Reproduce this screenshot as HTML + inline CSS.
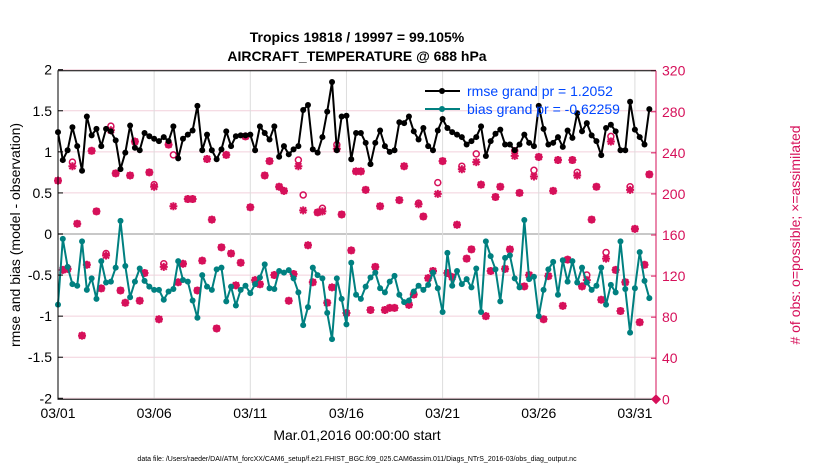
<!DOCTYPE html>
<html><head><meta charset="utf-8"><style>
body{margin:0;background:#fff;}
svg text{font-family:"Liberation Sans",sans-serif;}
</style></head><body>
<svg id="chart" width="830" height="470" xmlns="http://www.w3.org/2000/svg">
<g id="grid"></g>
<g id="marks"></g>
<g id="axes"></g>
<text x="357" y="42" text-anchor="middle" font-size="14" font-weight="bold">Tropics 19818 / 19997 = 99.105%</text>
<text x="357" y="61" text-anchor="middle" font-size="14" font-weight="bold">AIRCRAFT_TEMPERATURE @ 688 hPa</text>
<text transform="translate(20,235) rotate(-90)" text-anchor="middle" font-size="14">rmse and bias (model - observation)</text>
<text transform="translate(800,235) rotate(-90)" text-anchor="middle" font-size="14" fill="#d6105a"># of obs: o=possible; ×=assimilated</text>
<text x="357" y="440" text-anchor="middle" font-size="14">Mar.01,2016 00:00:00 start</text>
<text x="357" y="461" text-anchor="middle" font-size="7">data file: /Users/raeder/DAI/ATM_forcXX/CAM6_setup/f.e21.FHIST_BGC.f09_025.CAM6assim.011/Diags_NTrS_2016-03/obs_diag_output.nc</text>
<g>
<line x1="425" y1="91" x2="460" y2="91" stroke="#000" stroke-width="2"/><circle cx="442" cy="91" r="3" fill="#000"/>
<text x="467" y="96" font-size="14" fill="#0047ff">rmse grand pr = 1.2052</text>
<line x1="425" y1="109" x2="460" y2="109" stroke="#008080" stroke-width="2"/><circle cx="442" cy="109" r="3" fill="#008080"/>
<text x="467" y="114" font-size="14" fill="#0047ff">bias grand pr = -0.62259</text>
</g>
</svg>
<script>
const rmse=[1.24,0.90,1.02,1.30,1.07,0.77,1.43,1.20,1.28,1.07,1.28,1.25,1.14,0.79,0.99,1.32,1.05,1.02,1.23,1.19,1.16,1.13,1.18,1.13,1.31,0.92,1.16,1.21,1.26,1.56,1.02,1.21,1.02,0.91,1.03,1.25,1.07,1.19,1.20,1.20,1.21,1.02,1.31,1.23,1.15,1.31,0.94,1.07,0.97,1.03,1.07,1.51,1.57,1.03,0.99,1.18,1.49,1.85,1.02,1.43,1.44,0.91,1.23,1.23,1.11,0.85,1.11,1.26,1.07,1.00,1.02,1.36,1.35,1.43,1.25,1.15,1.29,1.07,1.02,1.26,1.40,1.29,1.24,1.21,1.18,1.09,1.13,1.18,1.31,0.95,1.13,1.22,1.27,1.09,1.09,1.02,1.09,1.21,1.11,1.07,1.56,1.28,1.09,1.11,1.18,1.06,1.26,1.17,1.47,1.25,1.35,1.20,1.13,0.96,1.29,1.33,1.25,1.02,1.02,1.61,1.27,1.18,1.09,1.52];
const bias=[-0.86,-0.06,-0.40,-0.61,-0.63,-0.09,-0.68,-0.54,-0.79,-0.33,-0.59,-0.58,-0.41,0.16,-0.39,-0.77,-0.58,-0.42,-0.57,-0.64,-0.68,-0.68,-0.80,-0.70,-0.67,-0.33,-0.56,-0.58,-0.81,-1.02,-0.50,-0.64,-0.68,-0.43,-0.41,-0.82,-0.64,-0.87,-0.68,-0.63,-0.72,-0.61,-0.53,-0.37,-0.66,-0.67,-0.45,-0.47,-0.44,-0.54,-0.71,-1.11,-0.89,-0.41,-0.50,-0.54,-0.96,-1.28,-0.54,-0.79,-1.10,-0.35,-0.74,-0.79,-0.64,-0.53,-0.47,-0.66,-0.71,-0.58,-0.51,-0.74,-0.83,-0.81,-0.70,-0.63,-0.68,-0.62,-0.47,-0.66,-0.95,-0.23,-0.63,-0.45,-0.61,-0.55,-0.65,-0.42,-0.95,-0.09,-0.27,-0.43,-0.82,-0.29,-0.26,-0.54,-0.65,0.17,-0.55,-0.52,-1.00,-0.68,-0.43,-0.34,-0.74,-0.32,-0.58,-0.33,-0.59,-0.41,-0.59,-0.68,-0.63,-0.41,-0.86,-0.62,-0.71,-0.09,-0.67,-1.20,-0.66,-0.22,-0.57,-0.78];
const nAssim=[213,126,127,227,171,62,131,242,183,108,140,262,220,106,94,218,251,96,123,221,207,78,129,248,188,114,132,195,195,106,135,234,175,69,148,238,142,111,133,256,187,116,112,218,232,121,207,203,96,122,227,184,150,114,182,183,94,109,244,180,84,145,222,222,204,87,129,188,87,89,89,194,227,92,102,190,178,118,125,200,232,123,119,170,224,137,146,231,209,81,125,197,207,127,146,237,201,110,121,217,236,78,120,203,233,91,136,233,218,110,116,175,207,97,137,251,126,86,114,204,166,75,131,219];
const nPoss=[213,126,127,231,171,62,131,242,183,108,142,266,220,106,94,218,251,96,123,221,209,78,132,248,238,114,132,195,195,106,135,234,175,69,148,238,142,111,133,256,187,116,112,218,232,121,207,203,96,122,233,199,150,114,182,186,94,109,248,180,84,145,222,222,204,87,129,188,87,89,89,194,227,92,102,191,178,118,125,211,232,123,119,170,227,137,146,239,209,81,125,197,207,127,146,242,201,110,121,223,236,78,120,203,233,91,136,233,221,110,121,175,207,97,143,256,126,86,114,207,166,75,131,219];
const yTicks=[-2,-1.5,-1,-0.5,0,0.5,1,1.5,2];
const yTickLabels=["-2","-1.5","-1","-0.5","0","0.5","1","1.5","2"];
const rTicks=[0,40,80,120,160,200,240,280,320];
const xTickDays=[0,5,10,15,20,25,30];
const xTickLabels=["03/01","03/06","03/11","03/16","03/21","03/26","03/31"];
const stepDays=0.25;

const X0=58,X1=656,Y0=70.7,Y1=399.3,PX_PER_DAY=19.23;
const xs=d=>X0+d*PX_PER_DAY;
const yl=v=>234-(v)*(Y1-Y0)/4;
const yr=c=>Y1-c*(Y1-Y0)/320;
const NS="http://www.w3.org/2000/svg";
function mk(tag,parent,attrs){const e=document.createElementNS(NS,tag);for(const k in attrs)e.setAttribute(k,attrs[k]);parent.appendChild(e);return e;}
const grid=document.getElementById('grid'),marks=document.getElementById('marks'),axes=document.getElementById('axes');

yTicks.forEach((v,i)=>{
  const l=mk('line',grid,{x1:X0,x2:X1,y1:yl(v),y2:yl(v),stroke:v===0?'#c8c8c8':'#f2d0dc','stroke-width':v===0?2:1});
  
  
  const t=mk('text',axes,{x:X0-6,y:yl(v)+5,'text-anchor':'end','font-size':14});
  t.textContent=yTickLabels[i];
  
  
  mk('line',axes,{x1:X0,x2:X0+5,y1:yl(v),y2:yl(v),stroke:'#000'});
});
xTickDays.forEach((d,i)=>{
  const l=mk('line',grid,{x1:xs(d),x2:xs(d),y1:Y0,y2:Y1,stroke:'#dcdcdc','stroke-width':1});
  
  
  const t=mk('text',axes,{x:xs(d),y:418,'text-anchor':'middle','font-size':14});
  t.textContent=xTickLabels[i];
  
  
});
rTicks.forEach(c=>{
  const t=mk('text',axes,{x:X1+6,y:yr(c)+5,'font-size':14,fill:'#d6105a'});
  t.textContent=String(c);
  
  
  mk('line',axes,{x1:X1-5,x2:X1,y1:yr(c),y2:yr(c),stroke:'#d6105a'});
});
const frame=mk('path',axes,{d:`M${X1},${Y0} L${X0},${Y0} L${X0},${Y1} L${X1},${Y1}`,fill:'none',stroke:'#000','stroke-width':1});


const raxis=mk('line',axes,{x1:X1,x2:X1,y1:Y0,y2:Y1,stroke:'#d6105a','stroke-width':1});


const zd=mk('path',axes,{d:`M${X1-5},${yr(0)} L${X1},${yr(0)-5} L${X1+5},${yr(0)} L${X1},${yr(0)+5}Z`,fill:'#d6105a'});



// obs counts
const MC='#d6105a';
nPoss.forEach((c,i)=>{
  const ci=mk('circle',marks,{cx:xs(i*stepDays),cy:yr(c),r:3,fill:'none',stroke:MC,'stroke-width':1.5});
  
  
});
nAssim.forEach((c,i)=>{
  const x=xs(i*stepDays),y=yr(c),r=4;
  const a=mk('path',marks,{d:`M${x-r},${y}H${x+r}M${x},${y-r}V${y+r}M${x-3},${y-3}L${x+3},${y+3}M${x-3},${y+3}L${x+3},${y-3}`,stroke:MC,'stroke-width':2});
  
  
});
function series(arr,color,name){
  const p=mk('polyline',marks,{points:arr.map((v,i)=>xs(i*stepDays)+','+yl(v)).join(' '),fill:'none',stroke:color,'stroke-width':2,'stroke-linejoin':'round'});
  
  
  arr.forEach((v,i)=>{
    const c=mk('circle',marks,{cx:xs(i*stepDays),cy:yl(v),r:3,fill:color});
    
    
  });
}
series(bias,'#008080','bias');
series(rmse,'#000000','rmse');
</script>
</body></html>
